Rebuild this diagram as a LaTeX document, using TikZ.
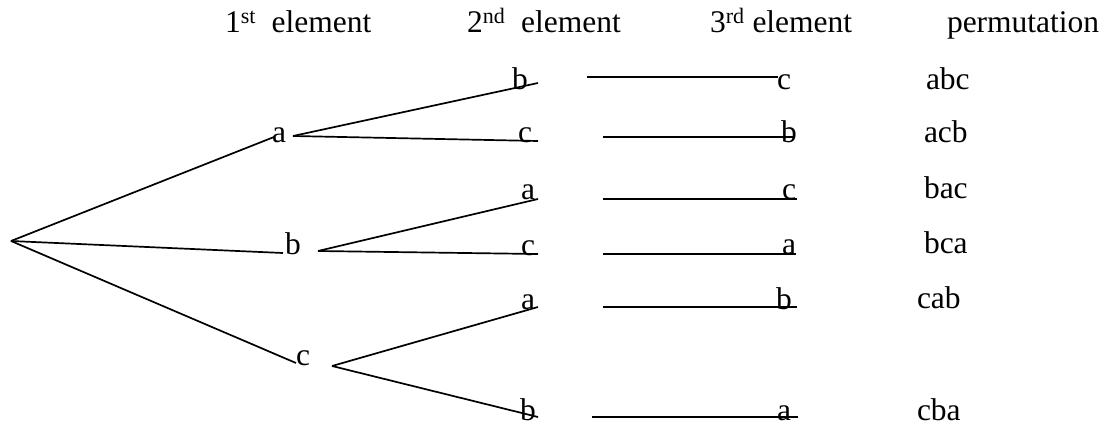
\documentclass[tikz,border=0pt]{standalone}
\usepackage{fontspec}
\setmainfont{Liberation Serif}
\begin{document}
\begin{tikzpicture}[x=1pt,y=-1pt,
  lbl/.style={anchor=base west,inner sep=0pt,outer sep=0pt,
    font=\fontsize{31.5}{36}\selectfont},
  branch/.style={line width=1.7pt,line cap=butt}]
\useasboundingbox (0,0) rectangle (1106,425);

% column headings
\node[lbl] (h1) at (225,33) {1\textsuperscript{st}\ \ element};
\node[lbl] (h2) at (467,33) {2\textsuperscript{nd}\ \ element};
\node[lbl] (h3) at (710,33) {3\textsuperscript{rd} element};
\node[lbl] (h4) at (947,33) {permutation};

% first element
\node[lbl] (a) at (272,143) {a};
\node[lbl] (b) at (285,254) {b};
\node[lbl] (c) at (296,365) {c};

% second element
\node[lbl] (ab) at (512,90) {b};
\node[lbl] (ac) at (518,143) {c};
\node[lbl] (ba) at (521,200) {a};
\node[lbl] (bc) at (521,255) {c};
\node[lbl] (ca) at (521,309) {a};
\node[lbl] (cb) at (520,420) {b};

% third element
\node[lbl] (abc3) at (777,90) {c};
\node[lbl] (acb3) at (781,143) {b};
\node[lbl] (bac3) at (782,199) {c};
\node[lbl] (bca3) at (782,254) {a};
\node[lbl] (cab3) at (776,309) {b};
\node[lbl] (cba3) at (777,420) {a};

% permutations
\node[lbl] (p1) at (926,90) {abc};
\node[lbl] (p2) at (924,143) {acb};
\node[lbl] (p3) at (924,198) {bac};
\node[lbl] (p4) at (924,253) {bca};
\node[lbl] (p5) at (917,308) {cab};
\node[lbl] (p6) at (917,420) {cba};

% branch points
\coordinate (root) at (11,241);
\coordinate (ra) at (274,137);
\coordinate (rb) at (283,253);
\coordinate (rc) at (296,363);
\coordinate (a0) at (293,136);
\coordinate (b0) at (318,251);
\coordinate (c0) at (332,366);
\coordinate (ab1) at (538,83);
\coordinate (ac1) at (538,141);
\coordinate (ba1) at (538,199);
\coordinate (bc1) at (538,254);
\coordinate (ca1) at (538,307);
\coordinate (cb1) at (538,417);
% third-level segments
\coordinate (s1) at (587,77);  \coordinate (e1) at (778,77);
\coordinate (s2) at (603,137); \coordinate (e2) at (794,137);
\coordinate (s3) at (603,199); \coordinate (e3) at (797,199);
\coordinate (s4) at (603,254); \coordinate (e4) at (796,254);
\coordinate (s5) at (603,307); \coordinate (e5) at (797,307);
\coordinate (s6) at (592,417); \coordinate (e6) at (798,417);

\draw[branch] (root) -- (ra);
\draw[branch] (root) -- (rb);
\draw[branch] (root) -- (rc);
\draw[branch] (a0) -- (ab1);
\draw[branch] (a0) -- (ac1);
\draw[branch] (b0) -- (ba1);
\draw[branch] (b0) -- (bc1);
\draw[branch] (c0) -- (ca1);
\draw[branch] (c0) -- (cb1);
\draw[branch] (s1) -- (e1);
\draw[branch] (s2) -- (e2);
\draw[branch] (s3) -- (e3);
\draw[branch] (s4) -- (e4);
\draw[branch] (s5) -- (e5);
\draw[branch] (s6) -- (e6);
\end{tikzpicture}
\end{document}
